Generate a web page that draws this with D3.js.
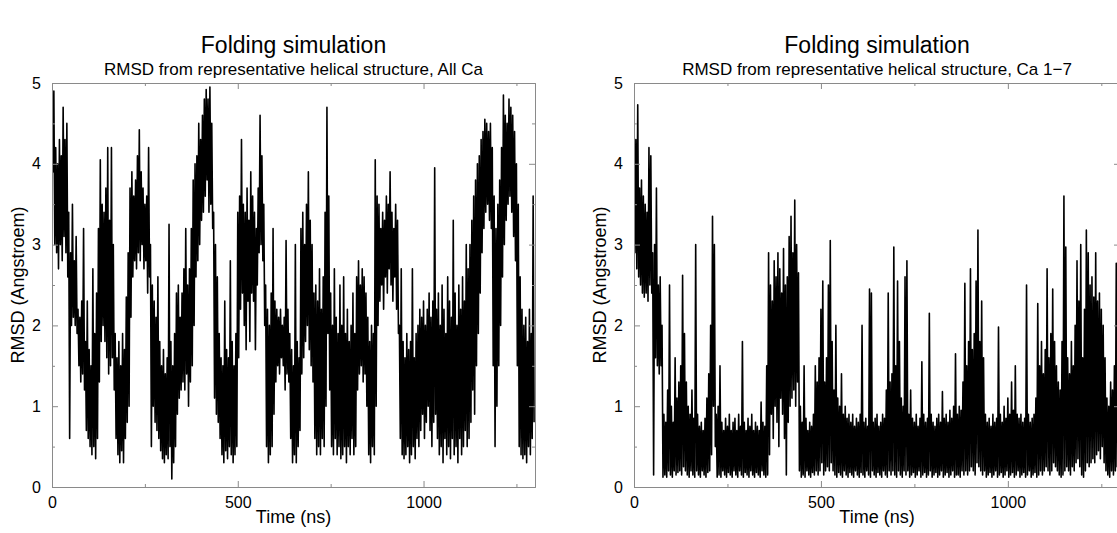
<!DOCTYPE html>
<html><head><meta charset="utf-8">
<script src="https://cdn.jsdelivr.net/npm/d3@7"></script>
<style>body{margin:0;background:#fff} text{font-family:"Liberation Sans",Arial,Helvetica,sans-serif;fill:#000}</style>
</head><body><svg id="c" width="1117" height="533"></svg>
<script>
// ---- data ----
const binWidth = 5;            // ns per sample (max value, min value within the bin)
const xDomain = [0, 1300];
const yDomain = [0, 5];
const xTicks = [0, 500, 1000];
const xMinorTicks = [250, 750, 1250];
const yTicks = [0, 1, 2, 3, 4, 5];
const yMinorTicks = [0.5, 1.5, 2.5, 3.5, 4.5];

const leftHi = [
5.0,4.9,4.2,4.0,4.3,4.1,4.7,4.3,4.5,3.4,
2.9,3.5,2.8,3.1,2.2,2.1,2.3,3.2,1.8,2.3,
1.7,1.5,2.7,1.9,2.4,3.2,4.05,3.5,3.4,3.7,
4.2,3.3,4.2,3.0,1.9,1.6,1.8,1.5,1.9,1.7,
2.35,2.9,3.7,3.9,3.6,3.8,4.1,4.42,3.9,3.7,
3.5,3.6,4.2,3.0,2.5,2.3,2.1,2.6,1.8,1.5,
1.7,1.4,1.6,3.25,1.8,1.5,1.9,2.4,2.5,2.1,
2.4,2.7,3.2,2.5,2.7,3.2,3.8,4.0,4.1,4.5,
4.3,4.6,4.8,4.92,4.8,4.95,4.5,3.4,3.0,2.6,
1.9,1.6,1.5,2.3,1.7,1.6,2.8,1.8,1.5,1.9,
3.4,3.6,4.3,3.5,3.4,3.7,3.3,3.9,3.6,3.4,
3.2,3.7,4.6,4.1,3.5,2.5,2.2,2.0,2.4,3.2,
2.3,2.2,2.1,2.2,2.0,2.1,3.05,2.2,1.9,1.7,
1.5,3.0,1.8,1.6,3.2,3.4,3.0,3.5,3.9,3.3,
3.0,2.4,2.5,2.3,2.7,2.2,2.6,3.4,4.7,3.6,
2.4,2.0,2.7,2.1,1.9,2.5,2.0,2.6,1.9,2.2,
1.8,2.0,2.4,1.9,2.6,2.8,2.5,2.7,2.6,2.4,
2.1,1.8,2.0,1.9,4.05,3.6,3.5,3.2,3.4,3.3,
3.6,3.5,3.9,3.4,3.2,3.5,3.3,2.0,2.7,1.8,
1.6,1.9,1.7,1.8,2.7,1.6,1.9,2.0,2.2,2.1,
2.3,2.0,2.2,2.4,2.1,2.3,3.95,2.2,2.4,2.0,
2.5,2.2,1.9,2.6,2.3,2.1,3.3,2.4,2.0,2.5,
2.2,2.6,2.3,3.0,2.7,3.0,3.3,3.6,3.8,4.0,
4.1,4.3,4.4,4.55,4.5,4.4,4.5,4.2,3.6,3.2,
3.5,3.8,4.2,4.85,4.6,4.5,4.8,4.7,4.6,4.4,
4.0,3.5,2.6,2.2,2.0,2.1,1.8,2.2,1.9,3.6
];
const leftLo = [
3.9,3.0,2.9,2.7,3.0,2.8,3.1,2.9,2.6,0.6,
2.0,2.1,2.0,1.9,1.5,1.3,1.4,1.2,0.7,0.6,
0.5,0.4,0.5,0.35,0.6,1.3,1.8,2.0,1.8,1.6,
1.4,1.5,1.6,1.2,0.6,0.4,0.3,0.45,0.3,0.6,
0.8,1.0,2.1,2.6,2.8,2.7,2.9,2.8,3.0,2.7,
2.8,2.4,2.6,0.5,1.0,0.8,0.7,0.6,0.45,0.35,
0.3,0.4,0.35,0.5,0.1,0.3,0.5,0.9,1.1,1.2,
1.3,1.2,1.4,1.0,1.3,1.5,2.0,2.6,2.8,3.0,
3.3,3.4,3.6,3.8,3.4,3.5,3.2,1.1,0.9,0.8,
0.6,0.4,0.3,0.45,0.35,0.5,0.4,0.3,0.4,0.5,
1.6,2.2,2.4,2.0,1.7,2.3,1.8,2.4,2.3,1.7,
2.5,2.9,3.0,2.8,2.0,0.5,0.3,0.4,0.5,0.9,
1.3,1.5,1.4,1.6,1.5,1.2,1.4,1.3,0.6,0.3,
0.4,0.3,0.5,0.7,1.4,1.6,1.8,2.0,1.7,1.5,
1.3,0.6,0.4,0.5,0.4,0.6,0.5,1.0,1.9,1.2,
0.5,0.4,0.6,0.4,0.5,0.35,0.4,0.5,0.3,0.5,
0.4,0.6,0.4,0.5,1.2,1.4,1.5,1.3,1.4,1.0,
0.4,0.3,0.5,0.4,1.0,2.0,2.3,2.5,2.2,2.6,
2.4,2.7,2.5,2.3,2.6,2.2,1.9,0.6,0.4,0.35,
0.4,0.5,0.3,0.4,0.5,0.35,0.6,0.5,0.7,0.9,
0.6,0.8,1.0,0.7,0.5,0.8,0.9,0.6,0.4,0.5,
0.3,0.6,0.4,0.5,0.35,0.6,0.4,0.5,0.3,0.6,
0.4,0.5,0.7,0.5,0.6,0.8,1.2,0.9,1.5,1.9,
2.4,2.9,3.2,3.4,3.5,3.3,3.2,1.5,0.5,1.0,
1.5,2.0,2.6,3.0,3.3,3.5,3.6,3.4,3.1,2.8,
1.5,0.5,0.4,0.35,0.4,0.3,0.5,0.4,0.6,0.8
];
const rightHi = [
3.8,4.3,4.73,3.7,3.8,3.6,3.5,3.4,4.2,4.1,
2.9,3.0,3.7,2.5,2.6,2.0,0.9,0.8,1.2,2.5,
1.0,0.8,1.6,1.1,1.3,1.5,2.62,1.9,1.3,1.0,
0.9,1.2,0.85,3.0,0.9,0.75,0.8,0.7,0.85,1.1,
1.4,2.0,3.35,3.0,0.9,1.0,1.5,0.8,0.7,0.85,
0.75,0.9,0.7,0.8,0.85,0.7,0.9,0.75,1.8,0.8,
0.7,0.85,0.75,0.9,0.7,0.8,0.75,0.7,1.05,0.8,
0.75,1.5,2.9,2.5,2.3,2.8,2.6,2.9,2.7,2.4,
2.95,2.5,2.6,3.1,3.35,2.9,3.55,3.0,2.65,1.0,
0.8,1.5,0.85,0.7,0.8,0.75,0.9,1.5,1.3,1.6,
2.2,2.55,1.3,1.6,2.5,3.05,1.8,1.2,2.0,1.1,
1.0,1.4,0.9,1.0,0.85,0.9,0.8,0.9,0.75,0.85,
0.8,0.9,2.0,0.8,0.85,0.75,2.45,2.4,0.8,0.85,
0.9,0.75,0.8,0.9,0.85,1.2,2.4,1.3,1.4,2.97,
1.5,2.55,1.8,1.1,1.0,2.6,2.8,0.9,1.2,0.85,
0.8,0.9,0.75,0.85,1.55,0.9,0.8,0.85,2.15,0.9,
0.8,0.75,0.85,0.9,0.8,1.18,0.85,0.9,0.8,0.95,
0.85,1.0,1.65,0.9,1.0,0.95,1.3,2.52,1.5,1.8,
2.7,1.7,1.9,2.55,3.18,1.8,2.3,1.6,0.9,0.8,
0.85,0.75,0.9,0.8,0.85,1.98,0.9,0.8,1.0,0.85,
1.1,0.9,1.3,0.95,1.5,0.9,0.85,0.9,0.8,0.85,
2.5,0.9,0.8,0.85,0.9,1.1,2.27,1.5,1.8,1.4,
1.7,2.7,1.6,1.9,2.45,1.8,1.5,1.3,1.2,1.8,
3.6,2.97,1.6,1.4,1.8,1.5,2.0,2.8,2.3,3.0,
1.6,2.2,3.18,2.9,2.5,2.6,2.35,2.9,2.3,2.4,
2.2,2.0,1.6,1.1,1.0,1.3,1.2,1.5,2.77,2.4
];
const rightLo = [
2.9,2.7,2.6,2.5,2.4,2.35,2.4,2.3,2.5,2.4,
0.15,1.6,1.5,1.4,1.5,0.12,0.15,0.12,0.2,0.15,
0.12,0.2,0.15,0.18,0.2,0.15,0.25,0.2,0.15,0.12,
0.2,0.15,0.12,0.2,0.15,0.12,0.2,0.15,0.12,0.18,
0.2,0.4,1.0,0.5,0.12,0.15,0.12,0.2,0.15,0.12,
0.18,0.15,0.12,0.2,0.15,0.12,0.2,0.15,0.12,0.18,
0.15,0.12,0.2,0.15,0.12,0.18,0.15,0.12,0.2,0.15,
0.12,0.15,0.4,0.9,0.6,1.0,0.8,0.5,1.1,0.9,
0.6,0.15,0.8,1.0,1.1,1.2,1.0,1.3,0.2,0.12,
0.15,0.12,0.2,0.15,0.12,0.18,0.15,0.2,0.15,0.2,
0.3,0.15,0.2,0.25,0.2,0.3,0.2,0.15,0.12,0.18,
0.15,0.12,0.2,0.15,0.12,0.18,0.15,0.12,0.2,0.15,
0.12,0.18,0.15,0.12,0.2,0.15,0.12,0.2,0.15,0.12,
0.18,0.15,0.12,0.2,0.15,0.12,0.2,0.15,0.2,0.15,
0.12,0.2,0.15,0.12,0.2,0.15,0.2,0.12,0.15,0.18,
0.12,0.15,0.2,0.12,0.15,0.18,0.12,0.15,0.2,0.12,
0.15,0.18,0.12,0.15,0.2,0.12,0.15,0.18,0.12,0.15,
0.2,0.12,0.15,0.15,0.12,0.2,0.15,0.2,0.15,0.2,
0.25,0.2,0.15,0.3,0.25,0.2,0.15,0.2,0.12,0.15,
0.18,0.12,0.15,0.2,0.12,0.15,0.18,0.12,0.15,0.2,
0.12,0.15,0.18,0.12,0.15,0.2,0.12,0.15,0.18,0.12,
0.15,0.2,0.12,0.15,0.18,0.12,0.15,0.2,0.15,0.2,
0.25,0.2,0.15,0.2,0.3,0.25,0.2,0.15,0.12,0.15,
0.2,0.25,0.2,0.15,0.25,0.2,0.3,0.35,0.25,0.15,
0.12,0.2,0.3,0.25,0.3,0.35,0.3,0.4,0.45,0.35,
0.5,0.3,0.2,0.15,0.12,0.2,0.15,0.2,0.25,0.3
];

const titles = ["Folding simulation", "Folding simulation"];
const subtitles = ["RMSD from representative helical structure, All Ca",
                   "RMSD from representative helical structure, Ca 1\u22127"];
const xLabel = "Time (ns)";
const yLabel = "RMSD (Angstroem)";

// ---- drawing ----
const svg = d3.select("#c");
const layout = [{x0: 52, x1: 535}, {x0: 634, x1: 1120}];
const yTop = 83, yBot = 487;
const series = [{hi: leftHi, lo: leftLo}, {hi: rightHi, lo: rightLo}];
const axisColor = "#8a8a8a";

series.forEach((s, k) => {
  const L = layout[k];
  const x = d3.scaleLinear().domain(xDomain).range([L.x0, L.x1]);
  const y = d3.scaleLinear().domain(yDomain).range([yBot, yTop]);
  const g = svg.append("g");

  const clipId = "clip" + k;
  svg.append("clipPath").attr("id", clipId).append("rect")
    .attr("x", L.x0).attr("y", yTop - 1).attr("width", L.x1 - L.x0).attr("height", yBot - yTop + 1);

  // trace: within each bin the signal swings from its max to its min
  const pts = [];
  s.hi.forEach((h, i) => {
    pts.push([i * binWidth, h]);
    pts.push([i * binWidth + binWidth / 2, s.lo[i]]);
  });
  g.append("path")
    .attr("clip-path", `url(#${clipId})`)
    .attr("d", d3.line().x(d => x(d[0])).y(d => y(d[1]))(pts))
    .attr("fill", "none").attr("stroke", "#000").attr("stroke-width", 1.6)
    .attr("stroke-linejoin", "round");

  function styleAxis(sel) {
    sel.select(".domain").attr("stroke", axisColor);
    sel.selectAll(".tick line").attr("stroke", axisColor);
    sel.selectAll("text").attr("font-size", 16).attr("font-family", '"Liberation Sans",Arial,sans-serif').attr("fill", "#000");
  }
  // bottom
  g.append("g").attr("transform", `translate(0,${yBot})`)
    .call(d3.axisBottom(x).tickValues(xTicks).tickSizeInner(-6).tickSizeOuter(0).tickPadding(10).tickFormat(d3.format("d")))
    .call(styleAxis);
  g.append("g").attr("transform", `translate(0,${yBot})`)
    .call(d3.axisBottom(x).tickValues(xMinorTicks).tickSizeInner(-3).tickSizeOuter(0).tickFormat(""))
    .call(styleAxis);
  // top
  g.append("g").attr("transform", `translate(0,${yTop})`)
    .call(d3.axisTop(x).tickValues(xTicks).tickSizeInner(-6).tickSizeOuter(0).tickFormat(""))
    .call(styleAxis);
  g.append("g").attr("transform", `translate(0,${yTop})`)
    .call(d3.axisTop(x).tickValues(xMinorTicks).tickSizeInner(-3).tickSizeOuter(0).tickFormat(""))
    .call(styleAxis);
  // left
  g.append("g").attr("transform", `translate(${L.x0},0)`)
    .call(d3.axisLeft(y).tickValues(yTicks).tickSizeInner(-6).tickSizeOuter(0).tickPadding(11).tickFormat(d3.format("d")))
    .call(styleAxis);
  g.append("g").attr("transform", `translate(${L.x0},0)`)
    .call(d3.axisLeft(y).tickValues(yMinorTicks).tickSizeInner(-3).tickSizeOuter(0).tickFormat(""))
    .call(styleAxis);
  // right
  g.append("g").attr("transform", `translate(${L.x1},0)`)
    .call(d3.axisRight(y).tickValues(yTicks).tickSizeInner(-6).tickSizeOuter(0).tickFormat(""))
    .call(styleAxis);
  g.append("g").attr("transform", `translate(${L.x1},0)`)
    .call(d3.axisRight(y).tickValues(yMinorTicks).tickSizeInner(-3).tickSizeOuter(0).tickFormat(""))
    .call(styleAxis);

  const cx = (L.x0 + L.x1) / 2;
  svg.append("text").attr("x", cx).attr("y", 53).attr("text-anchor", "middle")
    .attr("font-size", 23).text(titles[k]);
  svg.append("text").attr("x", cx).attr("y", 75).attr("text-anchor", "middle")
    .attr("font-size", 17).text(subtitles[k]);
  svg.append("text").attr("x", cx).attr("y", 523).attr("text-anchor", "middle")
    .attr("font-size", 18).text(xLabel);
  svg.append("text").attr("transform", `translate(${L.x0 - 28},${(yTop + yBot) / 2}) rotate(-90)`)
    .attr("text-anchor", "middle").attr("font-size", 18).text(yLabel);
});
</script></body></html>
